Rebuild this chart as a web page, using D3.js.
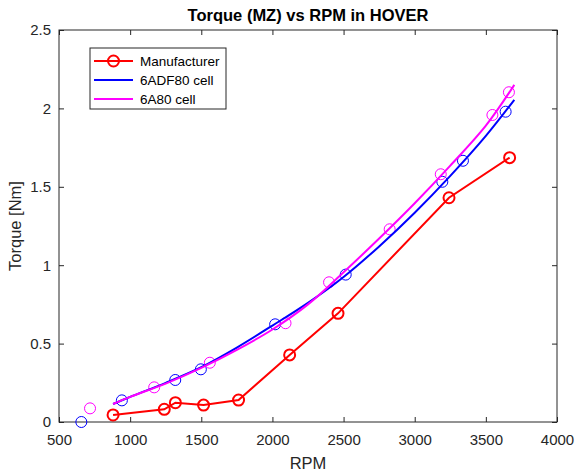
<!DOCTYPE html>
<html>
<head>
<meta charset="utf-8">
<script src="https://cdn.jsdelivr.net/npm/d3@7"></script>
<style>
  body { margin: 0; background: #fff; }
  text { font-family: "Liberation Sans", Arial, sans-serif; }
</style>
</head>
<body>
<script>
// manufacturer data
var mfrRpm = [880, 1240, 1318, 1516, 1762, 2121, 2461, 3241, 3667],
    mfrTorque = [0.045, 0.081, 0.123, 0.108, 0.14, 0.428, 0.693, 1.43, 1.686];

// measured points, 6ADF80 cell
var adfRpm = [657, 942, 1317, 1497, 2019, 2515, 3194, 3339, 3639],
    adfTorque = [0.0, 0.138, 0.268, 0.336, 0.623, 0.94, 1.532, 1.666, 1.979];

// measured points, 6A80 cell
var a80Rpm = [718, 1169, 1560, 2092, 2398, 2824, 3183, 3546, 3662],
    a80Torque = [0.087, 0.221, 0.378, 0.63, 0.891, 1.229, 1.58, 1.958, 2.103];

// fitted curves
var fitRpm = [880, 1000, 1250, 1500, 1750, 2000, 2250, 2500, 2750, 3000, 3250, 3500, 3700],
    adfFit = [0.115, 0.16, 0.25, 0.35, 0.475, 0.615, 0.76, 0.925, 1.12, 1.335, 1.57, 1.825, 2.055],
    a80Fit = [0.115, 0.16, 0.245, 0.345, 0.46, 0.59, 0.75, 0.955, 1.17, 1.395, 1.635, 1.89, 2.15];

var xTicks = [500, 1000, 1500, 2000, 2500, 3000, 3500, 4000],
    yTicks = [0, 0.5, 1, 1.5, 2, 2.5];

var legendNames = ["Manufacturer", "6ADF80 cell", "6A80 cell"],
    legendColors = ["#ff0000", "#0000ff", "#ff00ff"];

var w = 575,
    h = 473;

var margin = { top: 30, right: 18, bottom: 51, left: 59 },
    width = w - margin.left - margin.right,
    height = h - margin.top - margin.bottom;

var svg = d3.select("body")
    .append("svg")
    .attr("width", w)
    .attr("height", h);

var g = svg.append("g")
    .attr("transform", "translate(" + margin.left + "," + margin.top + ")");

var x = d3.scaleLinear().domain([500, 4000]).range([0, width]);
var y = d3.scaleLinear().domain([0, 2.5]).range([height, 0]);

var axisColor = "#262626";

// box
g.append("rect")
    .attr("width", width)
    .attr("height", height)
    .attr("fill", "none")
    .attr("stroke", axisColor)
    .attr("stroke-width", 1);

// ticks point inward on all four sides
var xa = g.append("g")
    .attr("transform", "translate(0," + height + ")")
    .call(d3.axisBottom(x).tickValues(xTicks).tickSizeInner(-5).tickSizeOuter(0).tickPadding(12).tickFormat(d3.format("d")));
var xt = g.append("g")
    .call(d3.axisTop(x).tickValues(xTicks).tickSizeInner(-5).tickSizeOuter(0).tickFormat(""));

var ya = g.append("g")
    .call(d3.axisLeft(y).tickValues(yTicks).tickSizeInner(-5).tickSizeOuter(0).tickPadding(8).tickFormat(d3.format("")));
var yr = g.append("g")
    .attr("transform", "translate(" + width + ",0)")
    .call(d3.axisRight(y).tickValues(yTicks).tickSizeInner(-5).tickSizeOuter(0).tickFormat(""));

[xa, xt, ya, yr].forEach(function (a) {
    a.select(".domain").remove();
    a.selectAll("line").attr("stroke", axisColor);
    a.selectAll("text")
        .attr("fill", axisColor)
        .style("font-size", "15px")
        .style("font-family", "'Liberation Sans', Arial, sans-serif");
});

// axis labels
svg.append("text")
    .attr("x", margin.left + width / 2)
    .attr("y", 469)
    .attr("text-anchor", "middle")
    .attr("fill", axisColor)
    .style("font-size", "16.5px")
    .text("RPM");

svg.append("text")
    .attr("transform", "translate(21," + (margin.top + height / 2) + ") rotate(-90)")
    .attr("text-anchor", "middle")
    .attr("fill", axisColor)
    .style("font-size", "16.5px")
    .text("Torque [Nm]");

svg.append("text")
    .attr("x", margin.left + width / 2)
    .attr("y", 21)
    .attr("text-anchor", "middle")
    .attr("fill", "#000")
    .style("font-size", "16.5px")
    .style("font-weight", "bold")
    .text("Torque (MZ) vs RPM in HOVER");

// measured scatter
function scatter(xs, ys, color) {
    g.append("g")
        .selectAll("circle")
        .data(xs)
        .enter()
        .append("circle")
        .attr("cx", function (d) { return x(d); })
        .attr("cy", function (d, i) { return y(ys[i]); })
        .attr("r", 5.5)
        .attr("fill", "none")
        .attr("stroke", color)
        .attr("stroke-width", 1);
}
scatter(adfRpm, adfTorque, "#0000ff");
scatter(a80Rpm, a80Torque, "#ff00ff");

var line = d3.line()
    .x(function (d) { return x(d[0]); })
    .y(function (d) { return y(d[1]); });

g.append("path")
    .datum(fitRpm.map(function (r, i) { return [r, adfFit[i]]; }))
    .attr("d", line.curve(d3.curveCatmullRom))
    .attr("fill", "none")
    .attr("stroke", "#0000ff")
    .attr("stroke-width", 2);

g.append("path")
    .datum(fitRpm.map(function (r, i) { return [r, a80Fit[i]]; }))
    .attr("d", line.curve(d3.curveCatmullRom))
    .attr("fill", "none")
    .attr("stroke", "#ff00ff")
    .attr("stroke-width", 2);

// manufacturer line with markers
var mfr = mfrRpm.map(function (r, i) { return [r, mfrTorque[i]]; });
g.append("path")
    .datum(mfr)
    .attr("d", line.curve(d3.curveLinear))
    .attr("fill", "none")
    .attr("stroke", "#ff0000")
    .attr("stroke-width", 2);

g.append("g")
    .selectAll("circle")
    .data(mfr)
    .enter()
    .append("circle")
    .attr("cx", function (d) { return x(d[0]); })
    .attr("cy", function (d) { return y(d[1]); })
    .attr("r", 5.5)
    .attr("fill", "none")
    .attr("stroke", "#ff0000")
    .attr("stroke-width", 2);

// legend
var lg = svg.append("g").attr("transform", "translate(90,48)");
lg.append("rect")
    .attr("width", 136)
    .attr("height", 61)
    .attr("fill", "#fff")
    .attr("stroke", axisColor)
    .attr("stroke-width", 1);

legendNames.forEach(function (name, i) {
    var yy = 13 + i * 19;
    lg.append("line")
        .attr("x1", 4).attr("x2", 43)
        .attr("y1", yy).attr("y2", yy)
        .attr("stroke", legendColors[i])
        .attr("stroke-width", 2);
    if (i == 0) {
        lg.append("circle")
            .attr("cx", 23.5).attr("cy", yy).attr("r", 5.5)
            .attr("fill", "none")
            .attr("stroke", legendColors[i])
            .attr("stroke-width", 2);
    }
    lg.append("text")
        .attr("x", 50)
        .attr("y", yy + 5)
        .attr("fill", "#000")
        .style("font-size", "13.5px")
        .text(name);
});
</script>
</body>
</html>
